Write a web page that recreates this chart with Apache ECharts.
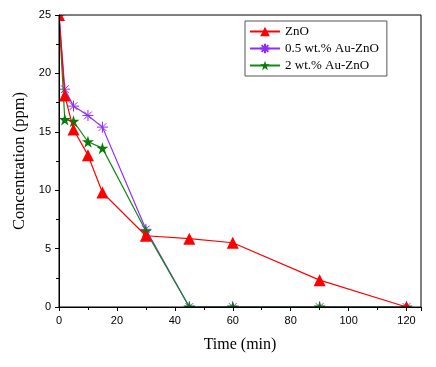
<!DOCTYPE html>
<html>
<head>
<meta charset="utf-8">
<script src="https://cdn.jsdelivr.net/npm/echarts@6/dist/echarts.min.js"></script>
<style>
  html, body { margin: 0; padding: 0; background: #fff; }
  #chart { width: 436px; height: 367px; }
</style>
</head>
<body>
<div id="chart"></div>
<script>
// sampling times (min)
var times = [0, 2, 5, 10, 15, 30, 45, 60, 90, 120]
// concentration (ppm)
var znO = [25, 18.1, 15.2, 13.0, 9.8, 6.1, 5.85, 5.5, 2.3, 0]
var auZnO05 = [25, 18.65, 17.2, 16.4, 15.4, 6.65, 0, 0, 0, 0]
var auZnO2 = [25, 16.05, 15.9, 14.15, 13.6, 6.5, 0, 0, 0, 0]
var seriesNames = ['ZnO', '0.5 wt.% Au-ZnO', '2 wt.% Au-ZnO']

var asterisk = 'path://M0,5L10,5M5,0L5,10M1.5,1.5L8.5,8.5M8.5,1.5L1.5,8.5'
var star = 'path://M5,0L6.18,3.6L10,3.6L6.9,5.85L8.1,9.5L5,7.25L1.9,9.5L3.1,5.85L0,3.6L3.82,3.6Z'

function pairs (ys) {
  var out = []
  for (var i = 0; i < times.length; i++) {
    out.push([times[i], ys[i]])
  }
  return out
}

var W = 436
var H = 367
var gridL = 59
var gridR = 15
var gridT = 15
var gridB = 60

// white masks outside the plot area so markers get clipped at the frame like in Origin
function masks () {
  var fill = { fill: '#fff' }
  return [
    { type: 'rect', shape: { x: 0, y: 0, width: gridL, height: H }, style: fill, z: 5, silent: true },
    { type: 'rect', shape: { x: 0, y: 0, width: W, height: gridT }, style: fill, z: 5, silent: true },
    { type: 'rect', shape: { x: 0, y: H - gridB, width: W, height: gridB }, style: fill, z: 5, silent: true },
    { type: 'rect', shape: { x: W - gridR, y: 0, width: gridR, height: H }, style: fill, z: 5, silent: true }
  ]
}

var chart = echarts.init(document.getElementById('chart'))
var serif = '"Liberation Serif", "Times New Roman", serif'
var sans = '"Liberation Sans", Arial, sans-serif'

var options = {
  animation: false,
  graphic: masks(),
  grid: {
    left: gridL,
    right: gridR,
    top: gridT,
    bottom: gridB,
    show: true,
    borderColor: '#000',
    borderWidth: 1,
    z: 10
  },
  legend: {
    data: seriesNames,
    orient: 'vertical',
    left: 245,
    top: 21,
    z: 12,
    itemWidth: 30,
    itemHeight: 12,
    itemGap: 4,
    padding: [4, 8, 4, 4],
    borderColor: '#555',
    borderWidth: 1,
    backgroundColor: '#fff',
    textStyle: {
      fontFamily: serif,
      fontSize: 13,
      color: '#000'
    }
  },
  xAxis: {
    type: 'value',
    min: 0,
    max: 125,
    interval: 20,
    z: 10,
    name: 'Time (min)',
    nameLocation: 'middle',
    nameGap: 30,
    nameTextStyle: { fontFamily: serif, fontSize: 16, color: '#000' },
    axisLine: { show: true, lineStyle: { color: '#000' } },
    axisTick: { show: true, length: 4, lineStyle: { color: '#000' } },
    minorTick: { show: true, splitNumber: 2, length: 3, lineStyle: { color: '#000' } },
    axisLabel: {
      fontFamily: sans,
      fontSize: 11,
      color: '#000',
      formatter: function (v) { return v <= 120 ? v : '' }
    },
    splitLine: { show: false }
  },
  yAxis: {
    type: 'value',
    min: 0,
    max: 25,
    interval: 5,
    z: 10,
    name: 'Concentration (ppm)',
    nameLocation: 'middle',
    nameGap: 25,
    nameTextStyle: { fontFamily: serif, fontSize: 16.5, color: '#000' },
    axisLine: { show: true, lineStyle: { color: '#000' } },
    axisTick: { show: true, length: 4, lineStyle: { color: '#000' } },
    minorTick: { show: true, splitNumber: 2, length: 3, lineStyle: { color: '#000' } },
    axisLabel: { fontFamily: sans, fontSize: 11, color: '#000' },
    splitLine: { show: false }
  },
  series: [
    {
      name: seriesNames[0],
      type: 'line',
      data: pairs(znO),
      symbol: 'triangle',
      symbolSize: 12,
      lineStyle: { color: '#ff0000', width: 1.2 },
      itemStyle: { color: '#ff0000' },
      z: 4
    },
    {
      name: seriesNames[1],
      type: 'line',
      data: pairs(auZnO05),
      symbol: asterisk,
      symbolSize: 11,
      lineStyle: { color: '#8f2bff', width: 1.2 },
      itemStyle: { color: 'rgba(0,0,0,0)', borderColor: '#8f2bff', borderWidth: 1 },
      z: 2
    },
    {
      name: seriesNames[2],
      type: 'line',
      data: pairs(auZnO2),
      symbol: star,
      symbolSize: 12,
      lineStyle: { color: '#138a13', width: 1.2 },
      itemStyle: { color: '#0a7a0a' },
      z: 3
    }
  ]
}
chart.setOption(options)
</script>
</body>
</html>
